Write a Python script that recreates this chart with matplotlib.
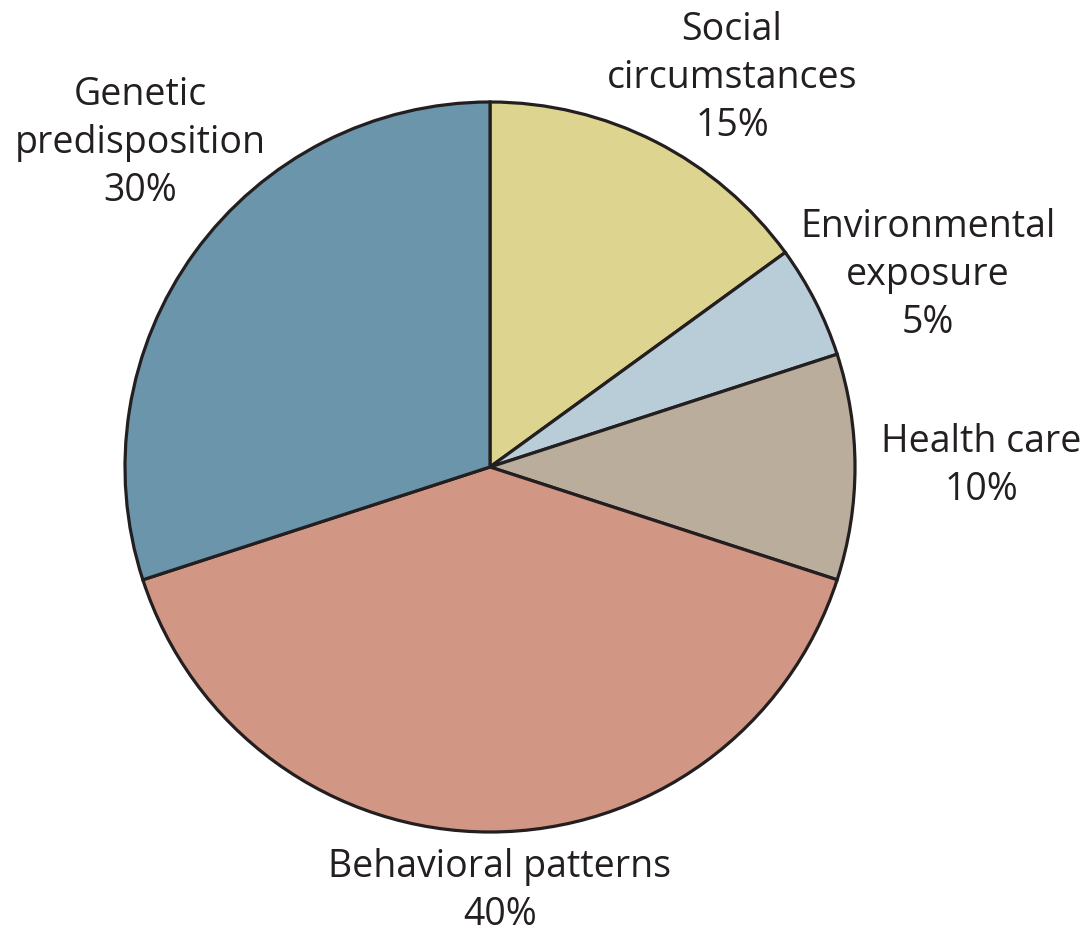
import matplotlib
matplotlib.use("Agg")
import matplotlib.pyplot as plt

labels = ["Social\ncircumstances", "Environmental\nexposure", "Health care",
          "Behavioral patterns", "Genetic\npredisposition"]
values = [15, 5, 10, 40, 30]
colors = ["#DDD48F", "#B9CDD8", "#BAAD9C", "#D29685", "#6A95AA"]

plt.rcParams['font.family'] = ['Open Sans', 'DejaVu Sans']

fig = plt.figure(figsize=(10.87, 9.33), dpi=100)
ax = fig.add_axes([0, 0, 1, 1])

ax.pie(values, colors=colors, startangle=90, counterclock=False,
       center=(490, 466), radius=365, frame=True,
       wedgeprops=dict(edgecolor="#231F20", linewidth=2.3))
ax.set_xlim(0, 1087)
ax.set_ylim(0, 933)
ax.set_aspect('equal')
ax.axis('off')

label_pos = [(732, 933 - 78), (928, 933 - 275), (981, 933 - 466),
             (500, 933 - 891), (140, 933 - 143)]
for lab, v, (x, y) in zip(labels, values, label_pos):
    ax.text(x, y, f"{lab}\n{v}%", ha='center', va='center', fontsize=27,
            color="#231F20", linespacing=1.33)

fig.savefig("out.png", dpi=100)
